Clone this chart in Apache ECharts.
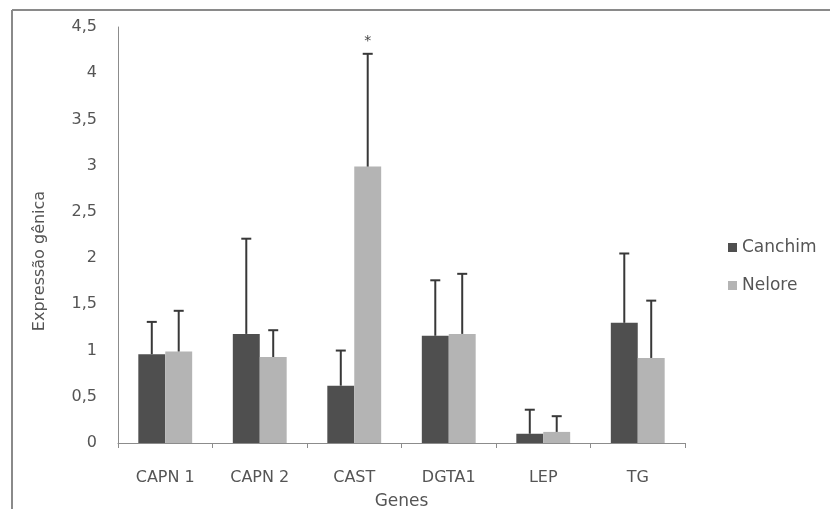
<!DOCTYPE html>
<html>
<head>
<meta charset="utf-8">
<script src="https://cdn.jsdelivr.net/npm/echarts@6/dist/echarts.min.js"></script>
<style>html,body{margin:0;padding:0;background:#fff}#c{width:830px;height:509px}</style>
</head>
<body>
<div id="c"></div>
<script>
var categories = ['CAPN 1', 'CAPN 2', 'CAST', 'DGTA1', 'LEP', 'TG'];
var canchim = [0.96, 1.18, 0.62, 1.16, 0.10, 1.30];
var canchimErrTop = [1.31, 2.21, 1.00, 1.76, 0.36, 2.05];
var nelore = [0.99, 0.93, 2.99, 1.18, 0.12, 0.92];
var neloreErrTop = [1.43, 1.22, 4.21, 1.83, 0.29, 1.54];
var neloreMark = ['', '', '*', '', '', ''];
var yTicks = ['0', '0,5', '1', '1,5', '2', '2,5', '3', '3,5', '4', '4,5'];

var FONT = '"DejaVu Sans", sans-serif';
var TXT = '#555';
var catGap = 0.43;
var darkColor = '#4f4f4f';
var lightColor = '#b4b4b4';

function errSeries(vals, tops, side, marks) {
  var data = categories.map(function (c, i) { return [i, vals[i], tops[i], marks ? marks[i] : '']; });
  return {
    type: 'custom',
    z: 10,
    silent: true,
    data: data,
    encode: { x: 0, y: [1, 2] },
    renderItem: function (params, api) {
      var idx = api.value(0);
      var base = api.coord([idx, api.value(1)]);
      var top = api.coord([idx, api.value(2)]);
      var catW = api.size([1, 0])[0];
      var bw = catW * (1 - catGap) / 2;
      var x = base[0] + side * bw / 2;
      var cap = 5;
      var st = { stroke: '#383838', lineWidth: 2 };
      var children = [
        { type: 'line', shape: { x1: x, y1: base[1], x2: x, y2: top[1] }, style: st },
        { type: 'line', shape: { x1: x - cap, y1: top[1], x2: x + cap, y2: top[1] }, style: st }
      ];
      var m = api.value(3);
      if (m) {
        children.push({ type: 'text', style: { text: m, x: x, y: top[1] - 12, align: 'center', verticalAlign: 'middle', font: '14px ' + FONT, fill: '#444' } });
      }
      return { type: 'group', children: children };
    }
  };
}

var chart = echarts.init(document.getElementById('c'));
chart.setOption({
  animation: false,
  backgroundColor: '#fff',
  grid: { left: 118, right: 145, top: 27, bottom: 66, containLabel: false, outerBoundsMode: 'none' },
  legend: {
    orient: 'vertical', left: 723, top: 234, itemGap: 21,
    itemWidth: 9, itemHeight: 9, icon: 'rect',
    textStyle: { fontFamily: FONT, fontSize: 17, color: TXT, padding: [0, 0, 0, 0] },
    data: ['Canchim', 'Nelore']
  },
  xAxis: {
    type: 'category', data: categories,
    name: 'Genes', nameLocation: 'middle', nameGap: 50,
    nameTextStyle: { fontFamily: FONT, fontSize: 17, color: TXT },
    axisLine: { lineStyle: { color: '#8c8c8c', width: 1 } },
    axisTick: { show: true, length: 5, lineStyle: { color: '#8c8c8c' } },
    axisLabel: { fontFamily: FONT, fontSize: 16, color: TXT, margin: 27 }
  },
  yAxis: {
    type: 'value', min: 0, max: 4.5, interval: 0.5,
    axisLine: { show: true, lineStyle: { color: '#8c8c8c', width: 1 } },
    axisTick: { show: false },
    splitLine: { show: false },
    axisLabel: {
      fontFamily: FONT, fontSize: 16, color: TXT, margin: 21,
      formatter: function (v) { return yTicks[Math.round(v / 0.5)]; }
    }
  },
  graphic: [
    { type: 'line', shape: { x1: 12, y1: 10, x2: 830, y2: 10 }, style: { stroke: '#8a8a8a', lineWidth: 2 } },
    { type: 'line', shape: { x1: 12, y1: 10, x2: 12, y2: 509 }, style: { stroke: '#8a8a8a', lineWidth: 2 } },
    { type: 'text', x: 40, y: 261, rotation: Math.PI / 2,
      style: { text: 'Expressão gênica', font: '16px ' + FONT, fill: TXT, align: 'center', verticalAlign: 'middle' } }
  ],
  series: [
    { name: 'Canchim', type: 'bar', data: canchim, barGap: 0, barCategoryGap: '43%', itemStyle: { color: darkColor } },
    { name: 'Nelore', type: 'bar', data: nelore, barGap: 0, barCategoryGap: '43%', itemStyle: { color: lightColor } },
    errSeries(canchim, canchimErrTop, -1),
    errSeries(nelore, neloreErrTop, 1, neloreMark)
  ]
});
</script>
</body>
</html>
